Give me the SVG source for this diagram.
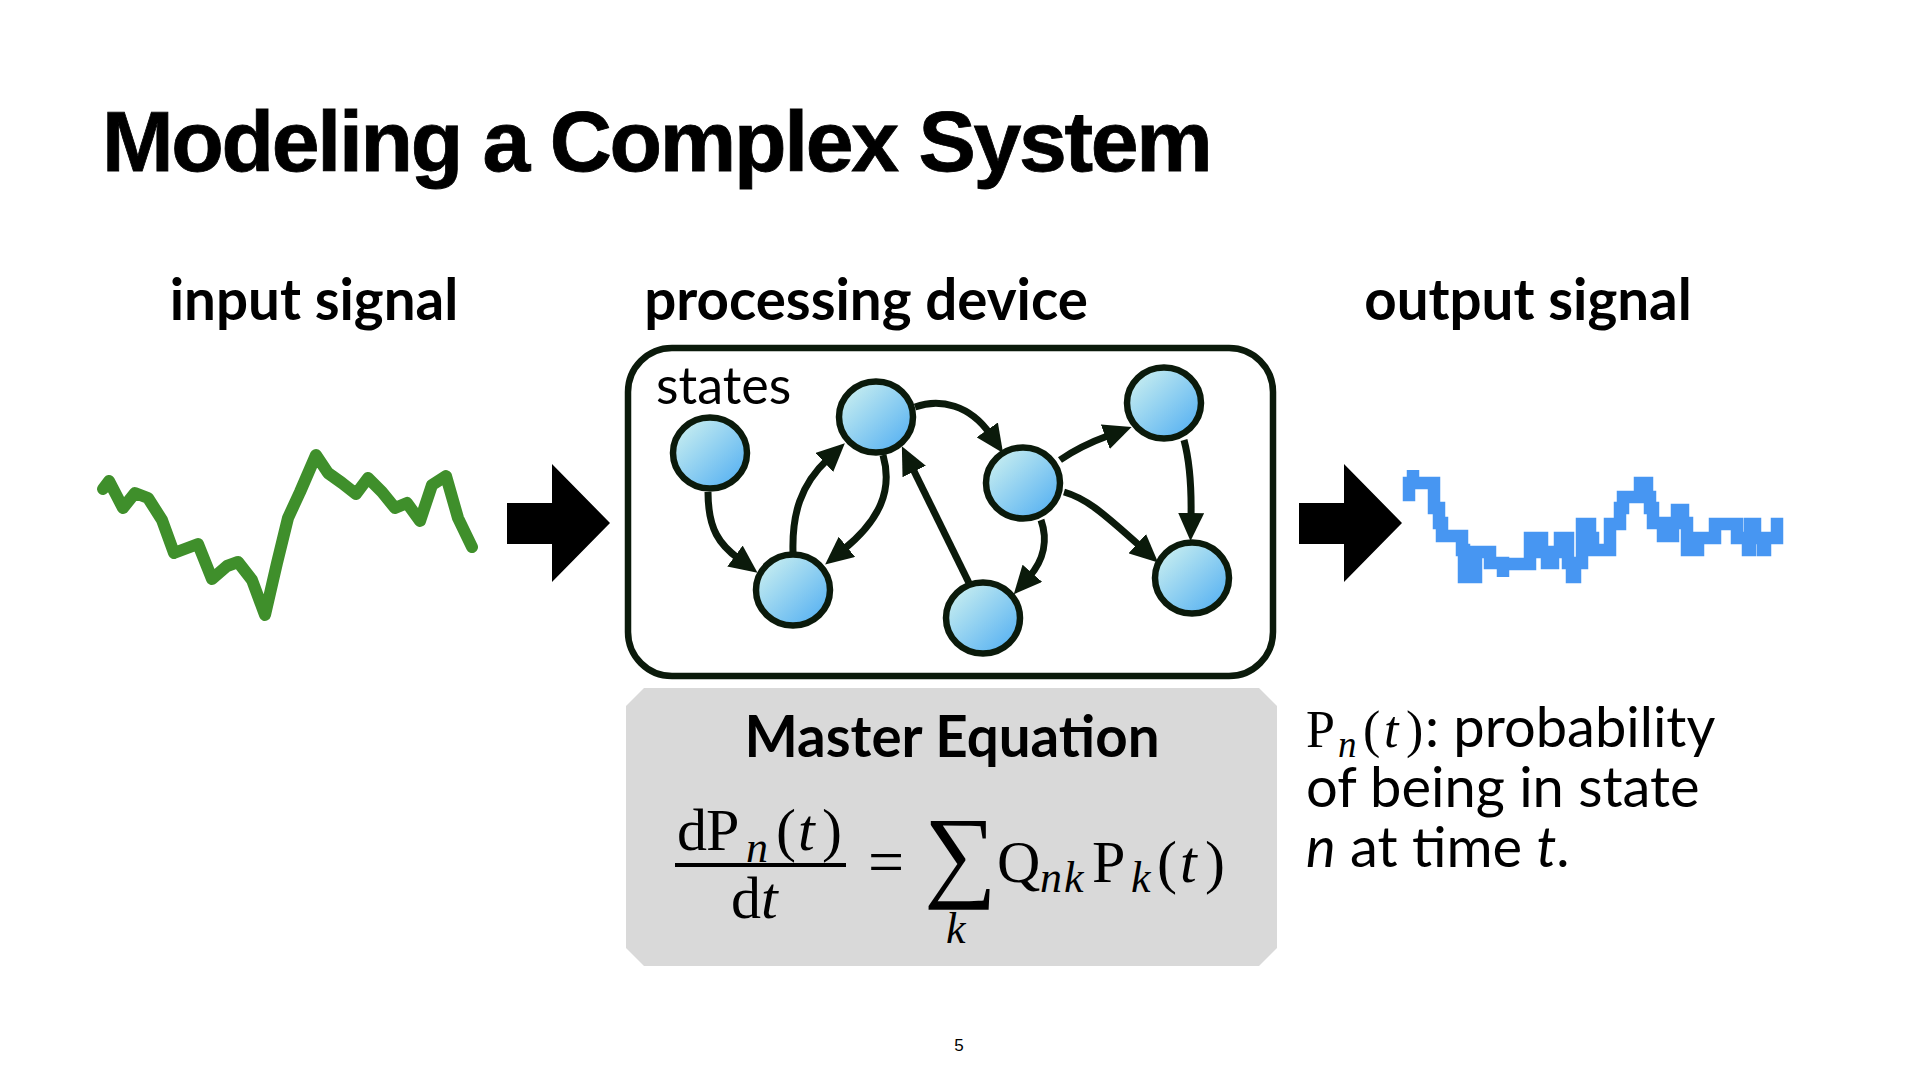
<svg xmlns="http://www.w3.org/2000/svg" width="1920" height="1080" viewBox="0 0 1920 1080">
<style>
.title{font-family:"Liberation Sans",Arial,sans-serif;font-weight:700;font-size:86px;letter-spacing:-2.3px;fill:#000;stroke:#000;stroke-width:0.8}
.hdr{font-family:Lato,"Open Sans",sans-serif;font-weight:700;font-size:56.5px;fill:#000;text-anchor:middle}
.lbl{font-family:Lato,"Open Sans",sans-serif;font-size:52px;fill:#000}
.body{font-family:Lato,"Open Sans",sans-serif;font-size:56px;fill:#000}
.math{font-family:"Liberation Serif","Times New Roman",serif;font-size:60px;fill:#000}
.sub{font-size:44px;font-style:italic}
.it{font-style:italic}
.edge{fill:none;stroke:#0b1a0b;stroke-width:7;marker-end:url(#ah)}
.node{fill:url(#ng);stroke:#0b1a0b;stroke-width:6.5}
</style>
<defs>
<linearGradient id="ng" x1="0" y1="0" x2="1" y2="1">
<stop offset="0.1" stop-color="#c8eef0"/>
<stop offset="0.9" stop-color="#58b2f2"/>
</linearGradient>
<marker id="ah" markerUnits="userSpaceOnUse" markerWidth="28" markerHeight="26" viewBox="0 0 28 26" refX="5" refY="13" orient="auto">
<path d="M0,0 L28,13 L0,26 z" fill="#0b1a0b"/>
</marker>
</defs>
<rect width="1920" height="1080" fill="#fff"/>

<text class="title" x="102" y="171">Modeling a Complex System</text>

<text class="hdr" x="314" y="320">input signal</text>
<text class="hdr" x="866" y="320">processing device</text>
<text class="hdr" x="1528" y="320">output signal</text>

<g id="input-signal">
<polyline fill="none" stroke="#3f8f2b" stroke-width="12" stroke-linejoin="round" stroke-linecap="round" points="103,489 109,481 123,508 135,493 148,498 162,520 174,553 198,544 212,579 227,566 238,562 252,580 265,615 277,563 288,518 300,492 316,455 328,473 342,483 356,494 368,478 382,492 395,508 407,503 420,521 432,485 446,476 458,518 472,547"/>
</g>

<g id="arrow-in">
<polygon points="507,503 552,503 552,464 610,523 552,582 552,544 507,544" fill="#000"/>
</g>
<g id="arrow-out">
<polygon points="1299,503 1344,503 1344,464 1402,523 1344,582 1344,544 1299,544" fill="#000"/>
</g>

<g id="device">
<rect x="628" y="348" width="645" height="328" rx="44" fill="#fff" stroke="#0b1a0b" stroke-width="6.5"/>
<text class="lbl" x="656" y="404">states</text>
</g>

<g id="connectors">
<path class="edge" d="M708,492 C708,530 720,545 739,559"/>
<path class="edge" d="M793,552 C792,515 800,485 828,459"/>
<path class="edge" d="M883,455 C893,490 880,520 843,550"/>
<path class="edge" d="M969,583 L912,467"/>
<path class="edge" d="M915,407 C940,398 970,405 990,434"/>
<path class="edge" d="M1041,520 C1048,540 1044,560 1029,577"/>
<path class="edge" d="M1060,460 Q1080,446 1110,435"/>
<path class="edge" d="M1064,492 C1085,498 1100,510 1141,547"/>
<path class="edge" d="M1184,440 Q1192,470 1191,518"/>
</g>

<g id="state-1"><ellipse class="node" cx="710" cy="453" rx="37" ry="35.5"/></g>
<g id="state-2"><ellipse class="node" cx="876" cy="417" rx="37" ry="35.5"/></g>
<g id="state-3"><ellipse class="node" cx="793" cy="590" rx="37" ry="35.5"/></g>
<g id="state-4"><ellipse class="node" cx="1023" cy="483" rx="37" ry="35.5"/></g>
<g id="state-5"><ellipse class="node" cx="1164" cy="403" rx="37" ry="35.5"/></g>
<g id="state-6"><ellipse class="node" cx="983" cy="618" rx="37" ry="35.5"/></g>
<g id="state-7"><ellipse class="node" cx="1192" cy="578" rx="37" ry="35.5"/></g>

<g id="output-signal">
<path fill="none" stroke="#4796f2" stroke-width="12.5" stroke-linecap="square" stroke-linejoin="miter" d="M1409,495 V483 H1413 V470 V483 H1434 V508 H1439 V523 H1442 V536 H1462 V550 H1464 V577 H1476 V563 V552 H1490 V563 H1503 V577 V564 H1530 V538 H1542 V552 H1547 V563 H1553 V552 H1560 V538 H1568 V563 H1572 V577 H1575 V563 H1582 V524 H1590 V538 H1593 V550 H1610 V524 H1620 V508 H1623 V497 H1640 V483 H1647 V497 H1650 V508 H1653 V523 H1663 V536 H1673 V523 H1677 V510 H1683 V523 H1687 V550 H1698 V538 H1715 V524 H1737 V538 H1748 V550 H1750 V524 H1755 V538 H1763 V550 H1765 V538 H1777 V524"/>
</g>

<g id="master-equation">
<polygon points="644,688 1259,688 1277,706 1277,948 1259,966 644,966 626,948 626,706" fill="#d9d9d9"/>
<text class="hdr" x="952" y="757">Master Equation</text>
<text class="math"><tspan x="677" y="850">d</tspan><tspan x="706" y="850">P</tspan><tspan x="746" y="862" class="sub">n</tspan><tspan x="776" y="850">(</tspan><tspan x="798" y="850" class="it">t</tspan><tspan x="822" y="850">)</tspan></text>
<rect x="675" y="863" width="171" height="4" fill="#000"/>
<text class="math"><tspan x="731" y="918">d</tspan><tspan x="761" y="918" class="it">t</tspan></text>
<text class="math"><tspan x="868" y="883" style="font-size:64px">=</tspan><tspan x="924" y="888" style="font-size:102px">∑</tspan><tspan x="946" y="943" class="sub">k</tspan><tspan x="997" y="882">Q</tspan><tspan x="1040" y="892" class="sub">n</tspan><tspan x="1064" y="892" class="sub">k</tspan><tspan x="1092" y="882">P</tspan><tspan x="1131" y="892" class="sub">k</tspan><tspan x="1157" y="882">(</tspan><tspan x="1180" y="882" class="it">t</tspan><tspan x="1205" y="882">)</tspan></text>
</g>

<g id="description">
<text class="body"><tspan class="math" style="font-size:52px" x="1306" y="747">P</tspan><tspan class="math sub" style="font-size:37px" x="1338" y="757">n</tspan><tspan class="math" style="font-size:52px" x="1363" y="747">(</tspan><tspan class="math it" style="font-size:52px" x="1384" y="747">t</tspan><tspan class="math" style="font-size:52px" x="1406" y="747">)</tspan><tspan x="1425" y="747">: probability</tspan><tspan x="1306" y="807">of being in state</tspan><tspan x="1306" y="867" class="it">n</tspan><tspan> at time </tspan><tspan class="it">t</tspan><tspan>.</tspan></text>
</g>

<text x="959" y="1051" style="font-family:'Liberation Sans',Arial,sans-serif;font-size:17px;text-anchor:middle">5</text>
</svg>
